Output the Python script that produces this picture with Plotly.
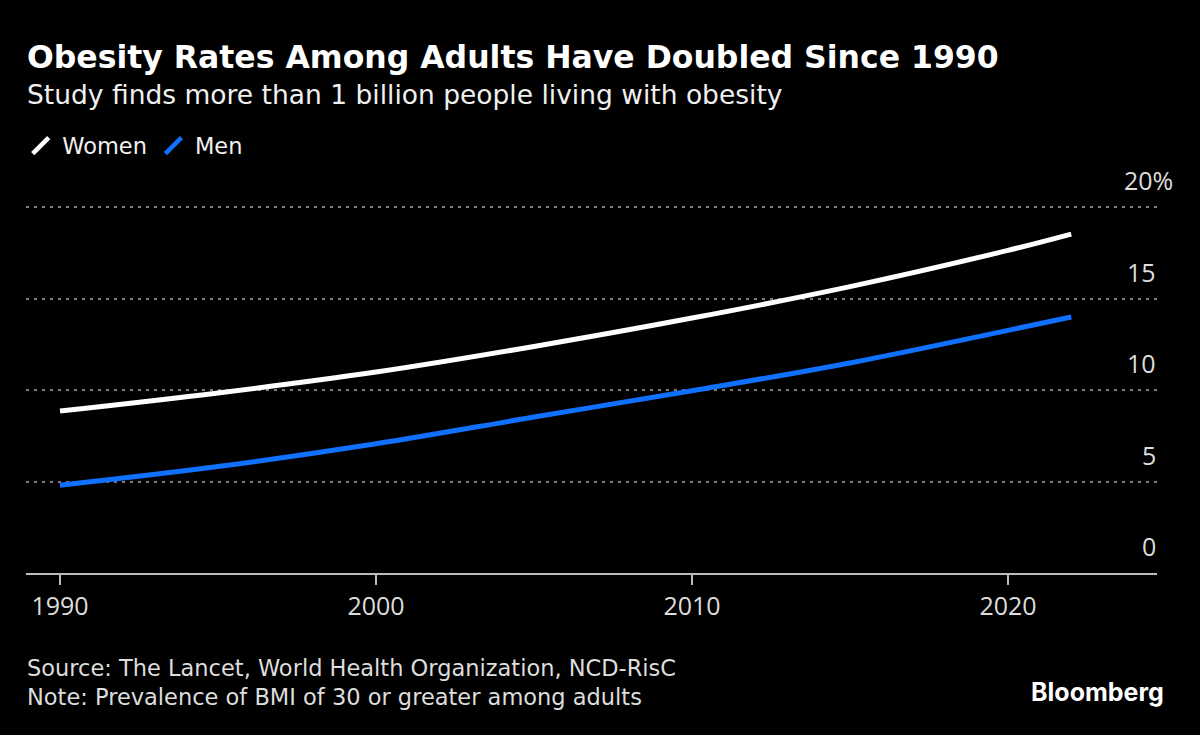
import plotly.graph_objects as go

years = [1990, 1995, 2000, 2005, 2010, 2015, 2020, 2022]
women = [8.85, 9.84, 10.98, 12.38, 13.93, 15.65, 17.63, 18.52]
men = [4.80, 5.82, 7.06, 8.52, 9.96, 11.48, 13.26, 13.99]

y_ticks = [0, 5, 10, 15, 20]
y_labels = ["0", "5", "10", "15", "20%"]
x_ticks = [1990, 2000, 2010, 2020]

title = "Obesity Rates Among Adults Have Doubled Since 1990"
subtitle = "Study finds more than 1 billion people living with obesity"
source = "Source: The Lancet, World Health Organization, NCD-RisC"
note = "Note: Prevalence of BMI of 30 or greater among adults"

WHITE = "#ffffff"
BLUE = "#1070ff"
SANS = "DejaVu Sans, sans-serif"
TICKF = "Open Sans, DejaVu Sans"

fig = go.Figure()
fig.add_trace(go.Scatter(x=years, y=women, mode="lines", line=dict(color=WHITE, width=5, shape="spline"),
                         showlegend=False, name="Women"))
fig.add_trace(go.Scatter(x=years, y=men, mode="lines", line=dict(color=BLUE, width=5, shape="spline"),
                         showlegend=False, name="Men"))
# legend entries with slash icons
for nm, col in [("Women", WHITE), ("Men", BLUE)]:
    fig.add_trace(go.Scatter(x=[None], y=[None], mode="markers", name=nm,
                             marker=dict(symbol="line-ne", size=18, color=col,
                                         line=dict(color=col, width=4.5))))

TOP = 202
BOT = 573
PH = BOT - TOP

fig.update_layout(
    width=1200, height=735,
    paper_bgcolor="#000000", plot_bgcolor="#000000",
    margin=dict(l=26, r=43, t=TOP, b=735 - BOT),
    showlegend=True,
    legend=dict(orientation="h", x=-0.006, xanchor="left", y=(BOT - 146) / PH, yanchor="middle",
                font=dict(family=SANS, size=22.5, color="#f0f0f0"),
                itemwidth=33, tracegroupgap=0, bgcolor="rgba(0,0,0,0)"),
    xaxis=dict(range=[1988.924, 2024.715], tickvals=x_ticks, ticks="outside", ticklen=10,
               tickwidth=1.5, tickcolor="#bbbbbb", showline=True, linecolor="#bbbbbb", linewidth=1.5,
               showgrid=False, zeroline=False,
               tickfont=dict(family=TICKF, size=25, color="#dddddd")),
    yaxis=dict(range=[0, (BOT - TOP) / 18.3], tickvals=[5, 10, 15, 20], showticklabels=False, ticks="",
               showgrid=True, gridcolor="#7a7a7a", gridwidth=1.5, griddash="3px,5px",
               zeroline=False, showline=False),
)

# y labels placed above gridlines
for v, lab in zip(y_ticks, y_labels):
    fig.add_annotation(x=1, xref="paper", y=v, yref="y", text=lab, showarrow=False,
                       xanchor="right", yanchor="bottom", yshift=8,
                       xshift=18 if lab.endswith("%") else 1,
                       font=dict(family=TICKF, size=25, color="#dddddd"))


def py(pix):
    return (BOT - pix) / PH


def px(pix):
    return (pix - 26) / 1131.0


fig.add_annotation(text="<b>" + title + "</b>", x=px(25), y=py(57), xref="paper", yref="paper",
                   showarrow=False, xanchor="left", yanchor="middle",
                   font=dict(family=SANS, size=31.5, color=WHITE))
fig.add_annotation(text=subtitle, x=px(25), y=py(95), xref="paper", yref="paper",
                   showarrow=False, xanchor="left", yanchor="middle",
                   font=dict(family=SANS, size=26.5, color="#f0f0f0"))
fig.add_annotation(text=source, x=px(25), y=py(668), xref="paper", yref="paper",
                   showarrow=False, xanchor="left", yanchor="middle",
                   font=dict(family=SANS, size=22.5, color="#dddddd"))
fig.add_annotation(text=note, x=px(25), y=py(697), xref="paper", yref="paper",
                   showarrow=False, xanchor="left", yanchor="middle",
                   font=dict(family=SANS, size=22.5, color="#dddddd"))
fig.add_annotation(text="<b>Bloomberg</b>", x=px(1166), y=py(692), xref="paper", yref="paper",
                   showarrow=False, xanchor="right", yanchor="middle",
                   font=dict(family="Inter, Roboto, sans-serif", size=25, color=WHITE))

fig.write_html("out.html", config={"displayModeBar": False},
               post_script="document.body.style.margin='0';document.body.style.background='#000';")
